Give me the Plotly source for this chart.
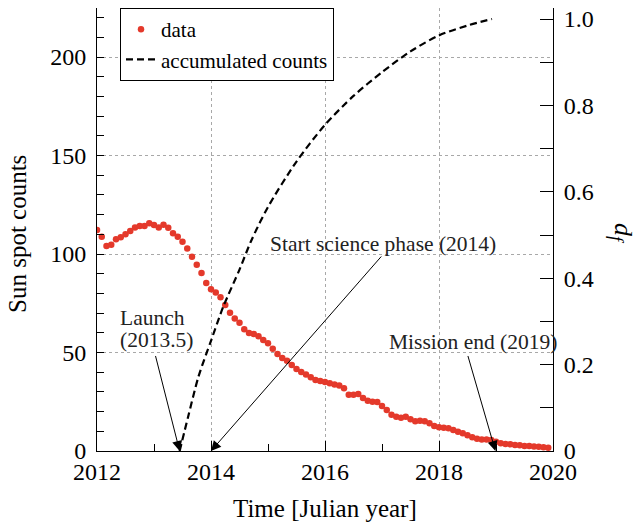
import plotly.graph_objects as go

# ---- data -------------------------------------------------------------
start_year = 2012.0
sunspots = [
    112.2, 108.8, 104.1, 104.7, 107.5, 108.5, 110.0, 111.7, 113.5, 114.2, 114.2, 115.6,
    114.7, 113.5, 114.9, 113.4, 110.5, 108.8, 106.2, 102.8, 98.6, 94.5, 90.4, 85.3,
    82.1, 80.5, 78.1, 74.1, 70.2, 67.3, 65.1, 61.8, 59.9, 59.4, 58.2, 56.3,
    54.7, 51.9, 49.2, 47.2, 45.8, 43.6, 41.6, 40.1, 38.8, 37.4, 36.1, 35.5,
    35.0, 34.4, 33.7, 33.2, 31.8, 28.6, 28.6, 28.9, 26.9, 25.5, 25.0, 24.9,
    22.8, 20.8, 18.4, 17.4, 16.9, 17.4, 16.1, 15.1, 15.4, 15.1, 14.1, 12.7,
    12.0, 11.8, 11.5, 10.7, 9.8, 9.0, 8.0, 7.0, 6.2, 5.9, 5.9, 5.6,
    4.7, 3.9, 3.6, 3.4, 3.1, 2.9, 2.6, 2.5, 2.3, 2.1, 1.9, 1.7,
]
months = [start_year + i / 12 for i in range(len(sunspots))]

acc_years = [2013.45, 2013.6, 2013.78, 2014.0, 2014.215, 2014.5, 2014.71, 2015.0,
             2015.5, 2016.0, 2016.5, 2017.0, 2017.5, 2018.0, 2018.5, 2018.93]
acc_frac = [0.0, 0.08, 0.172, 0.255, 0.334, 0.42, 0.488, 0.565,
            0.67, 0.755, 0.822, 0.877, 0.925, 0.962, 0.985, 1.0]

x_ticks = [2012, 2014, 2016, 2018, 2020]
y_ticks = [0, 50, 100, 150, 200]
y2_ticks = [0, 0.2, 0.4, 0.6, 0.8, 1.0]
y2_labels = ["0", "0.2", "0.4", "0.6", "0.8", "1.0"]

events = [
    # (tip_x, tail_x, tail_y)
    (2013.45, 2013.02, 49.0),
    (2014.0, 2017.01, 99.5),
    (2018.99, 2018.5, 49.0),
]

FONT = "Liberation Serif"
RED = "#e4392b"

# page is offset by the 8px body margin; plot area spans page x 97..553, y 8..451
W, H = 634, 517
L, R, T, B = 89, 634 - 545, 0, 517 - 443
PW, PH = 456, 443

fig = go.Figure()
fig.add_trace(go.Scatter(
    x=months, y=sunspots, mode="markers", name="data",
    marker=dict(color=RED, size=6.5, line=dict(width=0)),
))
fig.add_trace(go.Scatter(
    x=acc_years, y=acc_frac, mode="lines", name="accumulated counts",
    line=dict(color="black", width=2.2, dash="7px,4px", shape="spline", smoothing=0.8),
    yaxis="y2",
))

axis_common = dict(
    showline=True, linecolor="black", linewidth=1,
    ticks="inside", tickcolor="black", tickwidth=1,
    tickfont=dict(family=FONT, size=24, color="black"),
    zeroline=False, automargin=False, ticklabeloverflow="allow",
)

fig.update_layout(
    width=W, height=H,
    margin=dict(l=L, r=R, t=T, b=B, pad=0),
    paper_bgcolor="white", plot_bgcolor="white",
    font=dict(family=FONT, color="black"),
    xaxis=dict(
        range=[2012, 2020], tickvals=x_ticks, ticklen=10,
        mirror=True,
        showgrid=True, gridcolor="#a8a8a8", griddash="dot", gridwidth=1,
        minor=dict(dtick=1, ticks="inside", ticklen=7, tickcolor="black", showgrid=False),
        ticklabelstandoff=-1,
        **axis_common,
    ),
    yaxis=dict(
        range=[0, 224.9], tickvals=y_ticks, ticklen=7,
        showgrid=True, gridcolor="#a8a8a8", griddash="dot", gridwidth=1,
        minor=dict(dtick=10, ticks="inside", ticklen=7, tickcolor="black", showgrid=False),
        ticklabelstandoff=5,
        **axis_common,
    ),
    yaxis2=dict(
        range=[0, 1.0255], tickvals=y2_ticks, ticktext=y2_labels, ticklen=13,
        overlaying="y", side="right", showgrid=False,
        minor=dict(dtick=0.1, ticks="inside", ticklen=13, tickcolor="black", showgrid=False),
        ticklabelstandoff=5,
        **axis_common,
    ),
    legend=dict(
        x=(120 - 97) / PW, y=1.0, xanchor="left", yanchor="top",
        bgcolor="white", bordercolor="black", borderwidth=1,
        font=dict(family=FONT, size=21, color="black"),
        tracegroupgap=0, itemwidth=30,
    ),
    showlegend=True,
)

annotations = []
for tip_x, tail_x, tail_y in events:
    annotations.append(dict(
        x=tip_x, y=0, xref="x", yref="y",
        ax=tail_x, ay=tail_y, axref="x", ayref="y",
        text="", showarrow=True, arrowhead=2, arrowsize=2.0,
        arrowwidth=1, arrowcolor="black",
    ))


def px2x(px):
    return 2012 + (px - 97) / 57.0


def py2y(py):
    return (451 - py) / 1.97


TXT = dict(family=FONT, size=21.5, color="#222222")
annotations += [
    dict(x=px2x(118), y=py2y(318), xref="x", yref="y", xanchor="left", yanchor="middle",
         text="Launch", showarrow=False, font=TXT),
    dict(x=px2x(118), y=py2y(340), xref="x", yref="y", xanchor="left", yanchor="middle",
         text="(2013.5)", showarrow=False, font=TXT),
    dict(x=px2x(268), y=py2y(244), xref="x", yref="y", xanchor="left", yanchor="middle",
         text="Start science phase (2014)", showarrow=False, font=TXT),
    dict(x=px2x(387), y=py2y(342), xref="x", yref="y", xanchor="left", yanchor="middle",
         text="Mission end (2019)", showarrow=False, font=TXT),
    # axis titles
    dict(x=(325 - 97) / PW, y=-(508 - 451) / PH, xref="paper", yref="paper",
         xanchor="center", yanchor="middle", text="Time [Julian year]", showarrow=False,
         font=dict(family=FONT, size=25, color="black")),
    dict(x=-(97 - 18) / PW, y=(451 - 234) / PH, xref="paper", yref="paper",
         xanchor="center", yanchor="middle", text="Sun spot counts", textangle=-90,
         showarrow=False, font=dict(family=FONT, size=25, color="black")),
    dict(x=(622 - 97) / PW, y=(451 - 233) / PH, xref="paper", yref="paper",
         xanchor="center", yanchor="middle",
         text="<i>d</i><sub><i>f</i></sub>", textangle=90, showarrow=False,
         font=dict(family=FONT, size=26, color="black")),
]
fig.update_layout(annotations=annotations)

fig.write_html("out.html")
